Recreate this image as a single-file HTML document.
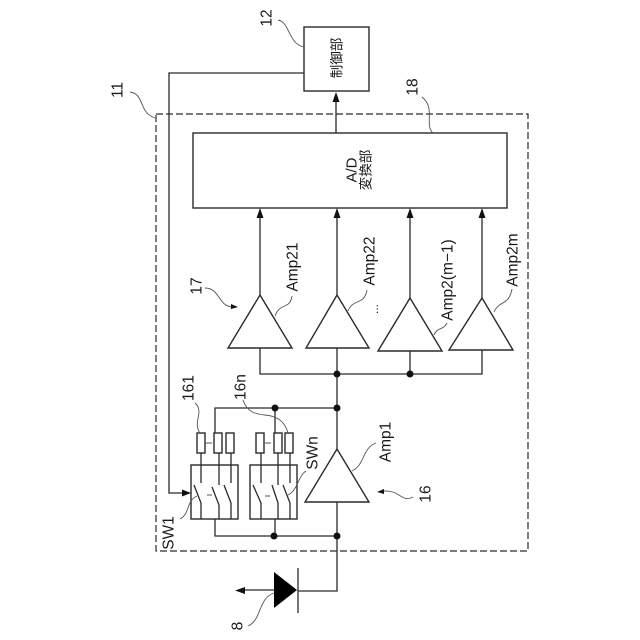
<!DOCTYPE html>
<html><head><meta charset="utf-8"><style>
html,body{margin:0;padding:0;background:#fff}
svg{display:block}
text{font-family:"Liberation Sans","Noto Sans CJK JP",sans-serif;font-size:15.5px;fill:#1a1a1a;text-anchor:middle;dominant-baseline:central}
.l{fill:none;stroke:#2a2a2a;stroke-width:1.3}
.t{fill:none;stroke:#555;stroke-width:.9}
.b{fill:#fff;stroke:#2a2a2a;stroke-width:1.4}
.a{fill:#111;stroke:none}
.n{fill:#111;stroke:none}
</style></head><body>
<svg width="640" height="640" viewBox="0 0 640 640" xmlns="http://www.w3.org/2000/svg">
<rect x="156" y="114" width="372" height="437" fill="none" stroke="#2a2a2a" stroke-width="1.2" stroke-dasharray="7 3"/>
<path class="l" d="M304 73H169V493H184"/>
<path class="a" d="M191 493l-9-3.500v7z"/>
<rect class="b" x="304" y="27" width="65" height="64"/>
<path class="l" d="M336 133V98"/>
<path class="a" d="M336 92l-3.500 10h7z"/>
<rect class="b" x="193" y="133" width="314" height="75"/>
<path class="l" d="M260 295V214M337 295V214M410 298V214M482 298V214"/>
<path class="a" d="M260 208l-3.500 10h7zM337 208l-3.500 10h7zM410 208l-3.500 10h7zM482 208l-3.500 10h7z"/>
<path class="b" d="M260 295L292 348H228Z"/>
<path class="b" d="M337 295L369 348H306Z"/>
<path class="b" d="M410 298L442 351H378Z"/>
<path class="b" d="M482 298L513 350H449Z"/>
<path class="l" d="M260 348V374H482V350M410 351V374M337 348V449M337 502V591H298"/>
<circle class="n" cx="337" cy="374" r="3.500"/><circle class="n" cx="410" cy="374" r="3.500"/>
<path class="b" d="M337 449L369 502H305Z"/>
<path class="l" d="M215 433V408H337M275 408V433"/>
<circle class="n" cx="275" cy="408" r="3.500"/><circle class="n" cx="337" cy="408" r="3.500"/>
<path class="l" d="M215 519V536H337M275 519V536"/>
<circle class="n" cx="274" cy="536" r="3.500"/><circle class="n" cx="337" cy="536" r="3.500"/>
<rect class="b" x="191" y="465" width="47" height="54"/>
<rect class="b" x="250" y="465" width="47" height="54"/>
<path class="l" d="M201 453V483M194 485L201 503V519M219 453V485M212 487L219 505V519M231 453V483M224 485L231 503V519"/>
<path class="l" d="M261 453V483M253 485L261 503V519M278 453V485M272 485L278 503V519M290 453V483M283 485L290 503V519"/>
<rect class="b" x="197" y="433" width="8" height="20"/>
<rect class="b" x="214" y="433" width="8" height="20"/>
<rect class="b" x="226" y="433" width="8" height="20"/>
<rect class="b" x="256" y="433" width="8" height="20"/>
<rect class="b" x="274" y="433" width="8" height="20"/>
<rect class="b" x="285" y="433" width="8" height="20"/>
<path class="t" d="M206 443h6M265 443h6M207 495h5M265 496h5"/>
<path d="M274 572L297 590L274 608Z" fill="#000"/>
<path class="l" d="M298 568V613M274 590H242"/>
<path class="a" d="M235 590.500l10-3.500v7z"/>
<path class="t" d="M278 20C290 22 288 44 304 47"/>
<path class="t" d="M130 92C145 94 138 112 155 118"/>
<path class="t" d="M422 97C436 108 424 125 433 133"/>
<path class="t" d="M195 403C205 412 192 422 200 433"/>
<path class="t" d="M243 400C247 412 255 414 265 415C278 416 285 422 288 433"/>
<path class="t" d="M180 519C190 514 186 501 197 496"/>
<path class="t" d="M306 471C298 476 298 490 288 495"/>
<path class="t" d="M376 443C362 448 365 465 352 471"/>
<path class="t" d="M413 497C402 503 400 490 384 491"/>
<path class="a" d="M377 492l7-3v5z"/>
<path class="t" d="M274 593C258 598 262 620 248 626"/>
<path class="t" d="M205 288C220 288 218 306 232 307"/>
<path class="a" d="M238 307l-7-3v5z"/>
<path class="t" d="M275 316C280 302 290 310 292 296"/>
<path class="t" d="M348 311C353 298 364 306 367 290"/>
<path class="t" d="M434 335C438 326 443 331 447 323"/>
<path class="t" d="M494 312C499 300 509 306 512 289"/>
<text transform="rotate(-90 267 18)" x="267" y="18">12</text>
<text transform="rotate(-90 118 90)" x="118" y="90">11</text>
<text transform="rotate(-90 413 87)" x="413" y="87">18</text>
<text transform="rotate(-90 238 626)" x="238" y="626">8</text>
<text transform="rotate(-90 426 494)" x="426" y="494">16</text>
<text transform="rotate(-90 197 286)" x="197" y="286">17</text>
<text transform="rotate(-90 189 388)" x="189" y="388">161</text>
<text transform="rotate(-90 241 387)" x="241" y="387">16n</text>
<text transform="rotate(-90 169 533)" x="169" y="533">SW1</text>
<text transform="rotate(-90 313 453)" x="313" y="453">SWn</text>
<text transform="rotate(-90 386 442)" x="386" y="442">Amp1</text>
<text transform="rotate(-90 293 267)" x="293" y="267">Amp21</text>
<text transform="rotate(-90 370 261)" x="370" y="261">Amp22</text>
<text transform="rotate(-90 448 280)" x="448" y="280">Amp2(m−1)</text>
<text transform="rotate(-90 513 260)" x="513" y="260">Amp2m</text>
<text transform="rotate(-90 374 309)" x="374" y="309" style="font-size:12px">...</text>
<text transform="rotate(-90 352 170)" x="352" y="170" style="font-size:15px">A/D</text>
<text transform="rotate(-90 366 170)" x="366" y="170" style="font-size:13.500px">変換部</text>
<text transform="rotate(-90 337 58)" x="337" y="58" style="font-size:13.500px">制御部</text>
</svg>
</body></html>
